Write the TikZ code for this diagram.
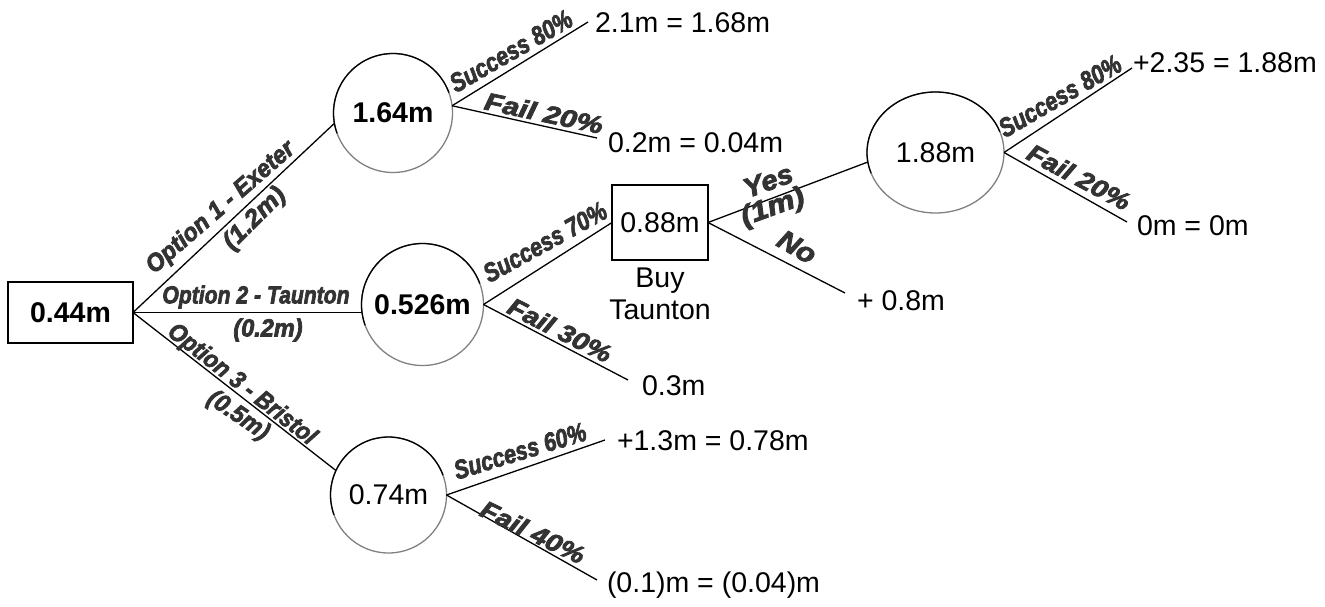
\documentclass[tikz,border=0pt]{standalone}
\usepackage{fontspec}
\setmainfont{Liberation Sans}
\newfontfamily\labfont{Liberation Sans}[BoldItalicFeatures={FakeBold=3}]
\usetikzlibrary{shapes.geometric}

% darker upper-left rim of a round chance node
\newcommand\toparc[3]{\draw[line width=1.3pt, black] (#1.center) ++(-20:#2 and #3) arc[start angle=-20, end angle=-200, x radius=#2, y radius=#3];}

\begin{document}
\begin{tikzpicture}[x=1pt, y=-1pt,
  every node/.style={inner sep=0pt, outer sep=0pt},
  val/.style={font=\fontsize{28.5}{32}\selectfont},
  valb/.style={font=\fontsize{28.5}{32}\selectfont\bfseries},
  chance/.style={circle, draw=black!50, line width=1.3pt},
  decbox/.style={rectangle, draw=black, line width=1.3pt},
  link/.style={line width=1.3pt, black},
  lab/.style={font=\labfont\fontsize{23.5}{25}\selectfont\bfseries\itshape, text=black!80},
  labbig/.style={font=\labfont\fontsize{26}{28}\selectfont\bfseries\itshape, text=black!80},
  leaf/.style={val, anchor=base west},
]
\useasboundingbox (0,0) rectangle (1325,606);

% decision and chance nodes
\node[decbox, valb, minimum width=125pt, minimum height=61pt] (root) at (70.5,312.5) {0.44m};
\node[chance, valb, minimum size=119pt] (n1) at (393,113) {1.64m};
\node[chance, valb, minimum size=122pt] (n2) at (422.5,304.5) {0.526m};
\node[chance, val, minimum size=116pt] (n3) at (388.5,495) {0.74m};
\node[decbox, val, minimum width=96pt, minimum height=75pt] (buy) at (660,222.5) {0.88m};
\node[chance, ellipse, val, minimum width=137pt, minimum height=121pt] (n4) at (935.5,152.5) {1.88m};
\toparc{n1}{59.5}{59.5}
\toparc{n2}{61}{61}
\toparc{n3}{58}{58}
\toparc{n4}{68.5}{60.5}

\node[val, align=center, anchor=north] (buycap) at (660,267.5) {Buy\\Taunton};

% outcomes
\node[leaf] (l1s) at (595,32) {2.1m = 1.68m};
\node[leaf] (l1f) at (608,152) {0.2m = 0.04m};
\node[leaf] (l2f) at (642,395) {0.3m};
\node[leaf] (lno) at (857,310) {+ 0.8m};
\node[leaf] (l4s) at (1133,72) {+2.35 = 1.88m};
\node[leaf] (l4f) at (1137,235) {0m = 0m};
\node[leaf] (l3s) at (617,450) {+1.3m = 0.78m};
\node[leaf] (l3f) at (607,592) {(0.1)m = (0.04)m};

% free ends of the outcome branches
\coordinate (e1s) at (588,22);
\coordinate (e1f) at (597,138);
\coordinate (e2f) at (628,380);
\coordinate (eno) at (845,293);
\coordinate (e4s) at (1132,68);
\coordinate (e4f) at (1127,222);
\coordinate (e3s) at (605,440);
\coordinate (e3f) at (597,580);

% branches
\draw[link] (root.east) -- (n1.190);
\draw[link] (root.east) -- (root.east -| n2.west);
\draw[link] (root.east) -- (n3.155);
\draw[link] (n1.7) -- (e1s);
\draw[link] (n1.7) -- (e1f);
\draw[link] (n2.east) -- (buy.west);
\draw[link] (n2.east) -- (e2f);
\draw[link] (buy.east) -- (n4.188);
\draw[link] (buy.east) -- (eno);
\draw[link] (n4.east) -- (e4s);
\draw[link] (n4.east) -- (e4f);
\draw[link] (n3.east) -- (e3s);
\draw[link] (n3.east) -- (e3f);

% branch labels
\node[lab, rotate=41] (t1a) at (221,208) {\scalebox{1.0}[1.05]{Option 1 - Exeter}};
\node[lab, rotate=45] (t1b) at (255,219) {\scalebox{1.12}[1.05]{(1.2m)}};
\node[lab] (t2a) at (256,297) {\scalebox{0.9}[1.05]{Option 2 - Taunton}};
\node[lab] (t2b) at (268,330) {\scalebox{1.0}[1.05]{(0.2m)}};
\node[lab, rotate=-38] (t3a) at (241.5,385) {\scalebox{0.95}[1.05]{Option 3 - Bristol}};
\node[lab, rotate=-34] (t3b) at (238,416) {\scalebox{1.0}[1.05]{(0.5m)}};

\node[lab, rotate=30] (s1) at (511,51) {\scalebox{0.92}[1.12]{Success 80\%}};
\node[lab, rotate=-12] (f1) at (544,113) {\scalebox{1.28}[1.05]{Fail 20\%}};
\node[lab, rotate=29] (s2) at (545,242) {\scalebox{0.92}[1.12]{Success 70\%}};
\node[lab, rotate=-27] (f2) at (560,330) {\scalebox{1.2}[1.05]{Fail 30\%}};
\node[lab, rotate=30] (s4) at (1060,96) {\scalebox{0.92}[1.12]{Success 80\%}};
\node[lab, rotate=-28] (f4) at (1079,177) {\scalebox{1.2}[1.05]{Fail 20\%}};
\node[lab, rotate=17] (s3) at (520,451) {\scalebox{0.92}[1.12]{Success 60\%}};
\node[lab, rotate=-26] (f3) at (533,532) {\scalebox{1.2}[1.05]{Fail 40\%}};

\node[labbig, rotate=20] (yes) at (768,181) {\scalebox{1.12}[1.05]{Yes}};
\node[labbig, rotate=20] (yesc) at (773,208) {\scalebox{1.2}[1.05]{(1m)}};
\node[labbig, rotate=-30] (no) at (797,247) {\scalebox{1.15}[1.05]{No}};
\end{tikzpicture}
\end{document}
